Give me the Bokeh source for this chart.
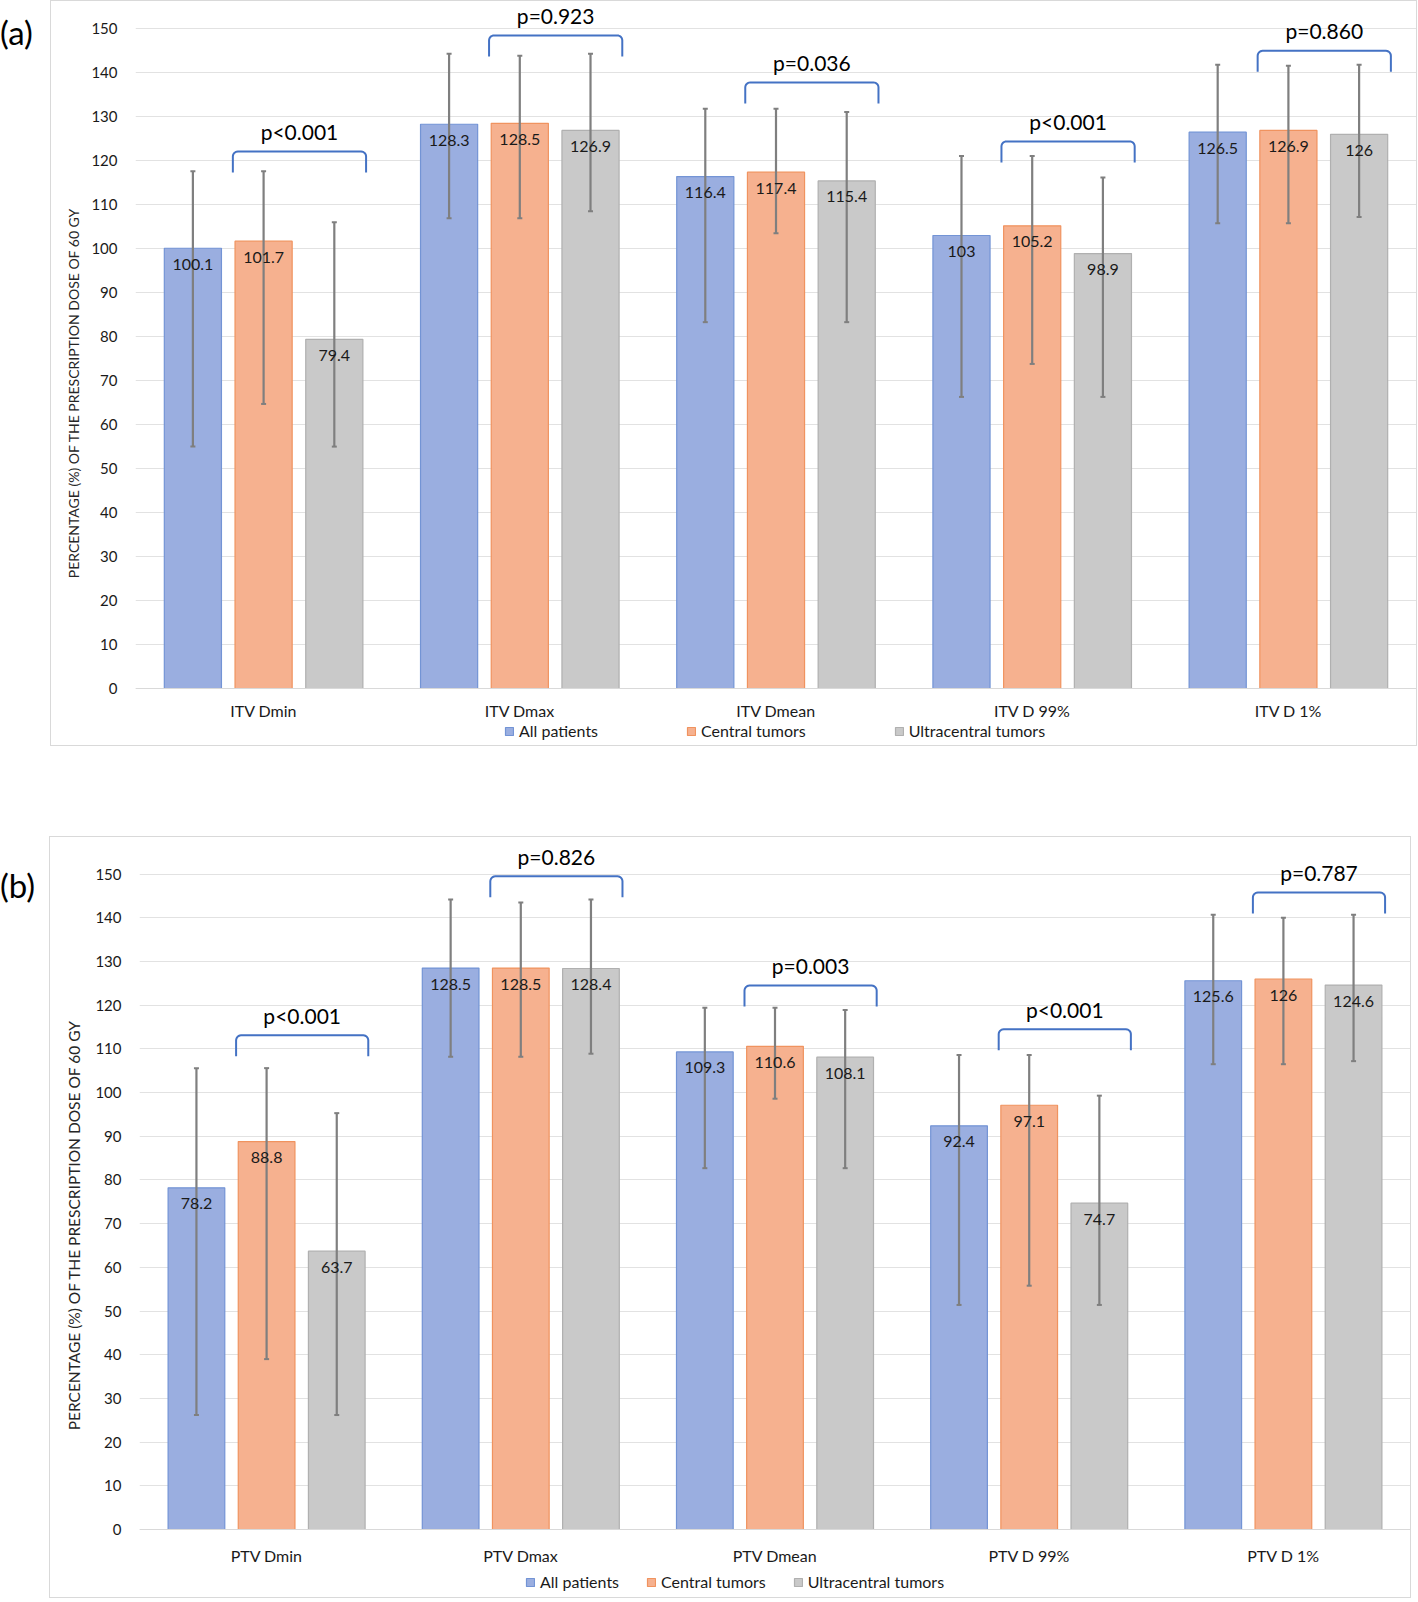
import numpy as np
from bokeh.plotting import figure
from bokeh.models import (ColumnDataSource, FixedTicker, Legend, LegendItem, LinearAxis,
                          Range1d, Div, Spacer)
from bokeh.layouts import column, row
from bokeh.embed import file_html
from bokeh.resources import INLINE
from bokeh.core.properties import value

# ---------------- data ----------------
GROUPS = ["All patients", "Central tumors", "Ultracentral tumors"]
Y_TICKS = list(range(0, 151, 10))
Y_TITLE = "PERCENTAGE (%) OF THE PRESCRIPTION DOSE OF 60 GY"

ITV_CATS = ["ITV Dmin", "ITV Dmax", "ITV Dmean", "ITV D 99%", "ITV D 1%"]
ITV_ALL = [100.1, 128.3, 116.4, 103, 126.5]
ITV_CENTRAL = [101.7, 128.5, 117.4, 105.2, 126.9]
ITV_ULTRA = [79.4, 126.9, 115.4, 98.9, 126]
ITV_ALL_LO = [55.0, 106.9, 83.3, 66.3, 105.8]
ITV_ALL_HI = [117.6, 144.3, 131.8, 121.1, 141.8]
ITV_CENTRAL_LO = [64.7, 106.9, 103.5, 73.8, 105.8]
ITV_CENTRAL_HI = [117.6, 143.9, 131.8, 121.1, 141.6]
ITV_ULTRA_LO = [55.0, 108.5, 83.3, 66.3, 107.2]
ITV_ULTRA_HI = [106.0, 144.3, 131.1, 116.2, 141.8]
ITV_P = ["p<0.001", "p=0.923", "p=0.036", "p<0.001", "p=0.860"]
ITV_BRACKET = [122.1, 148.5, 137.8, 124.4, 145.0]

PTV_CATS = ["PTV Dmin", "PTV Dmax", "PTV Dmean", "PTV D 99%", "PTV D 1%"]
PTV_ALL = [78.2, 128.5, 109.3, 92.4, 125.6]
PTV_CENTRAL = [88.8, 128.5, 110.6, 97.1, 126]
PTV_ULTRA = [63.7, 128.4, 108.1, 74.7, 124.6]
PTV_ALL_LO = [26.2, 108.2, 82.7, 51.4, 106.5]
PTV_ALL_HI = [105.6, 144.2, 119.4, 108.6, 140.7]
PTV_CENTRAL_LO = [39.0, 108.2, 98.6, 55.8, 106.5]
PTV_CENTRAL_HI = [105.6, 143.5, 119.4, 108.6, 140.0]
PTV_ULTRA_LO = [26.2, 108.9, 82.7, 51.4, 107.2]
PTV_ULTRA_HI = [95.3, 144.2, 118.9, 99.3, 140.7]
PTV_P = ["p<0.001", "p=0.826", "p=0.003", "p<0.001", "p=0.787"]
PTV_BRACKET = [113.1, 149.5, 124.5, 114.5, 145.8]

# ---------------- style ----------------
FONT = "Lato"
FILL = ["#9aaee0", "#f6b18f", "#c9c9c9"]
EDGE = ["#7394d5", "#f0935f", "#b0b0b0"]
OFFS = [-0.276, 0.0, 0.276]
BAR_W = 0.223
ERR_COLOR = "#7f7f7f"
BR_COLOR = "#4472c4"
BR_LEFT, BR_RIGHT = -0.12, 0.40
TXT = "#1a1a1a"


def fmt(v):
    return "%g" % v


def make_panel(cats, series, lows, highs, pvals, brackets, g):
    W, H = g["W"], g["H"]
    fl, fr, ft, fb = g["left"], g["right"], g["top"], g["bottom"]
    fw = W - fl - fr
    ppu = g["ppu"]
    zero_fy = g["zero_fy"]           # pixel row of the value 0 inside the canvas
    y_end = (zero_fy - ft) / ppu
    y_start = -((H - fb) - zero_fy) / ppu
    cat_px = fw / len(cats)

    p = figure(width=W, height=H, x_range=Range1d(0, len(cats)), y_range=Range1d(y_start, y_end),
               output_backend="svg", toolbar_location=None, title=None,
               min_border_left=fl, min_border_right=fr, min_border_top=ft, min_border_bottom=fb,
               styles={"border": "1px solid #d9d9d9"})
    p.outline_line_color = None
    p.background_fill_color = "white"
    p.border_fill_color = "white"
    p.xgrid.grid_line_color = None
    p.ygrid.grid_line_color = "#e2e2e2"
    p.ygrid.grid_line_width = 1

    centers = np.arange(len(cats)) + 0.5
    items = []
    for k in range(3):
        src = ColumnDataSource(dict(x=centers + OFFS[k], top=series[k]))
        r = p.vbar(x="x", top="top", bottom=0, width=BAR_W, source=src,
                   fill_color=FILL[k], line_color=EDGE[k], line_width=1.2)
        items.append(LegendItem(label=GROUPS[k], renderers=[r]))
    for k in range(3):
        xs = centers + OFFS[k]
        cap = 2.5 / cat_px
        p.segment(x0=xs, y0=lows[k], x1=xs, y1=highs[k], line_color=ERR_COLOR, line_width=2.2)
        p.segment(x0=xs - cap, y0=lows[k], x1=xs + cap, y1=lows[k], line_color=ERR_COLOR, line_width=2)
        p.segment(x0=xs - cap, y0=highs[k], x1=xs + cap, y1=highs[k], line_color=ERR_COLOR, line_width=2)
    for k in range(3):
        p.text(x=centers + OFFS[k], y=series[k], text=[fmt(v) for v in series[k]],
               text_align="center", text_baseline="middle", y_offset=16,
               text_font=value(FONT), text_font_size="16px", text_color=TXT)

    # brackets with p-values
    r_px = 5.0
    drop = 21.0 / ppu
    th = np.linspace(np.pi, np.pi / 2, 7)
    th2 = np.linspace(np.pi / 2, 0, 7)
    bxs, bys = [], []
    for c, top in zip(centers, brackets):
        x0, x1 = c + BR_LEFT, c + BR_RIGHT
        lx = (x0 + r_px / cat_px) + (r_px / cat_px) * np.cos(th)
        ly = (top - r_px / ppu) + (r_px / ppu) * np.sin(th)
        rx = (x1 - r_px / cat_px) + (r_px / cat_px) * np.cos(th2)
        ry = (top - r_px / ppu) + (r_px / ppu) * np.sin(th2)
        bxs.append(np.concatenate([[x0], lx, rx, [x1]]))
        bys.append(np.concatenate([[top - drop], ly, ry, [top - drop]]))
    p.multi_line(xs=bxs, ys=bys, line_color=BR_COLOR, line_width=2)
    p.text(x=centers + (BR_LEFT + BR_RIGHT) / 2, y=brackets, text=pvals,
           text_align="center", text_baseline="middle", y_offset=-20,
           text_font=value(FONT), text_font_size="21px", text_color="black")

    # x axis sits at value 0 inside the frame
    p.xaxis.fixed_location = 0
    p.xaxis.ticker = FixedTicker(ticks=list(centers))
    p.xaxis.major_label_overrides = {float(c): n for c, n in zip(centers, cats)}
    p.xaxis.axis_line_color = "#d9d9d9"
    p.xaxis.major_tick_line_color = None
    p.xaxis.minor_tick_line_color = None
    p.xaxis.major_tick_out = 0
    p.xaxis.major_tick_in = 0
    p.xaxis.major_label_standoff = g["xstand"]
    p.xaxis.major_label_text_font = FONT
    p.xaxis.major_label_text_font_size = "16px"
    p.xaxis.major_label_text_color = TXT

    p.yaxis.ticker = FixedTicker(ticks=Y_TICKS)
    p.yaxis.axis_line_color = None
    p.yaxis.major_tick_line_color = None
    p.yaxis.minor_tick_line_color = None
    p.yaxis.major_tick_out = 0
    p.yaxis.major_tick_in = 0
    p.yaxis.major_label_standoff = 18
    p.yaxis.major_label_text_font = FONT
    p.yaxis.major_label_text_font_size = "15px"
    p.yaxis.major_label_text_color = TXT

    # y title on a tick-less outer axis; trailing no-break spaces nudge it downwards
    tax = LinearAxis(ticker=FixedTicker(ticks=[]),
                     axis_label=Y_TITLE + "\u00a0" * g["tpad"], axis_label_standoff=g["tstand"],
                     axis_label_text_font=FONT, axis_label_text_font_size=g["tsize"],
                     axis_label_text_font_style="normal", axis_label_text_color="#262626",
                     axis_line_color=None, major_tick_line_color=None,
                     minor_tick_line_color=None, major_tick_out=0, major_tick_in=0,
                     major_label_text_font_size="0px")
    p.add_layout(tax, "left")

    legend = Legend(items=items, orientation="horizontal", location=g["legloc"],
                    glyph_width=10, glyph_height=10, label_standoff=5,
                    spacing=g["legspace"], padding=0, margin=0,
                    label_text_font=FONT, label_text_font_size="16px",
                    label_text_color=TXT, border_line_color=None,
                    background_fill_alpha=0)
    p.add_layout(legend, "center")
    return p


def tag(text, top_pad, w, h):
    return Div(text='<div style="font-family:Lato;font-size:33px;line-height:34px;'
                    'color:black;margin-left:-5px;margin-top:%dpx">%s</div>' % (top_pad, text),
               width=w, height=h)


GA = dict(W=1367, H=746, left=84, right=2, top=0, bottom=2, ppu=4.398, zero_fy=687,
          tsize="14px", tpad=11, tstand=7, legloc=(369, 5), legspace=88, xstand=12)
GB = dict(W=1362, H=762, left=89, right=2, top=0, bottom=2, ppu=4.369, zero_fy=692,
          tsize="15.5px", tpad=4, tstand=10, legloc=(386, 6), legspace=27, xstand=16)

pa = make_panel(ITV_CATS, [ITV_ALL, ITV_CENTRAL, ITV_ULTRA],
                [ITV_ALL_LO, ITV_CENTRAL_LO, ITV_ULTRA_LO],
                [ITV_ALL_HI, ITV_CENTRAL_HI, ITV_ULTRA_HI], ITV_P, ITV_BRACKET, GA)
pb = make_panel(PTV_CATS, [PTV_ALL, PTV_CENTRAL, PTV_ULTRA],
                [PTV_ALL_LO, PTV_CENTRAL_LO, PTV_ULTRA_LO],
                [PTV_ALL_HI, PTV_CENTRAL_HI, PTV_ULTRA_HI], PTV_P, PTV_BRACKET, GB)

layout = column(row(tag("(a)", 10, 40, 80), pa),
                Spacer(height=90),
                row(tag("(b)", 27, 39, 100), pb))
open("out.html", "w").write(file_html(layout, INLINE))
